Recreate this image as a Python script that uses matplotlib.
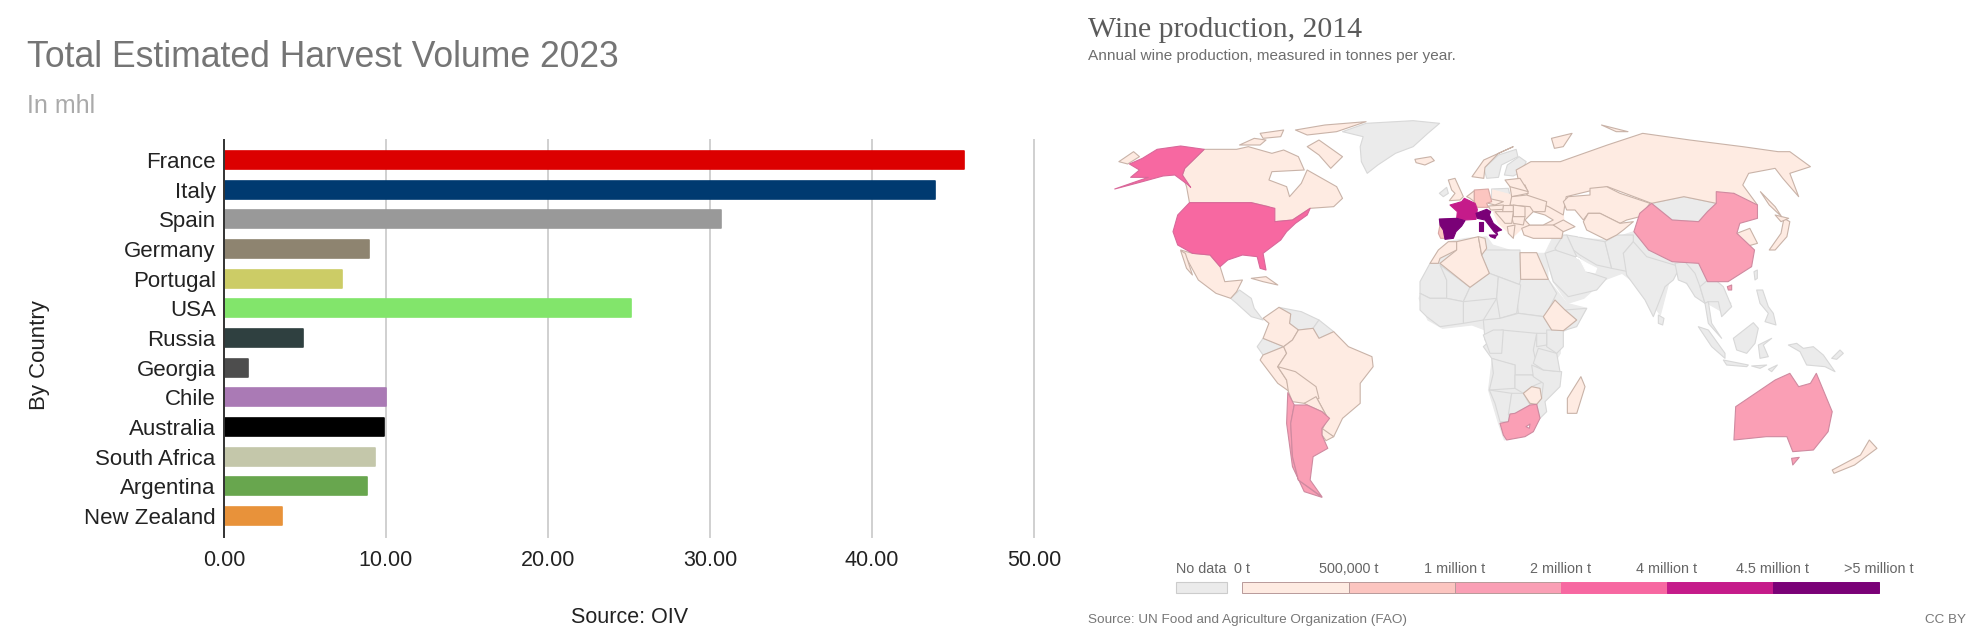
import matplotlib
matplotlib.use("Agg")
import matplotlib.pyplot as plt
from matplotlib.patches import Polygon, Rectangle

plt.rcParams['font.family'] = ['Liberation Sans', 'DejaVu Sans']
W, H = 1983, 643

# ---- bar chart data ----
countries = ['France','Italy','Spain','Germany','Portugal','USA','Russia','Georgia','Chile','Australia','South Africa','Argentina','New Zealand']
volumes = [45.7,43.86,30.66,8.98,7.3,25.15,4.9,1.46,10.0,9.9,9.3,8.8,3.6]
bar_colors = ['#dc0000','#003a70','#999999','#8e8470','#cccc66','#82e56b','#2f4040','#4d4d4d','#aa7ab5','#000000','#c4c7aa','#68a64e','#e8923a']
xticks = [0,10,20,30,40,50]

# ---- legend data ----
legend_labels = ['0 t','500,000 t','1 million t','2 million t','4 million t','4.5 million t','>5 million t']
NODATA, T0, T1, T2, T3, T4, T5 = '#ebebeb','#feebe2','#fcc5c0','#fa9fb5','#f768a1','#c51b8a','#7a0177'
legend_colors = [T0,T1,T2,T3,T4,T5]

# ---- map outlines: "W" units = wide crop, "E","A","S" units = close crops ----
W_under_gray = [
 [(829,490),(829,568),(861,640),(895,655),(880,700),(850,730),(850,790),(825,860),(818,950),(815,985),(790,1030),(755,1050),(745,1000),(728,900),(735,800),(730,725),(700,705),(650,715),(625,690),(610,625),(622,570),(632,525),(660,455),(690,445),(725,440),(735,465),(782,490)],
 [(838,440),(930,450),(975,425),(1000,480),(1040,515),(1085,520),(1100,575),(1140,640),(1130,670),(1100,640),(1040,540),(1020,675),(985,590),(955,550),(925,570),(890,625),(863,640),(838,575),(824,490)],
]
W_under_light = [
 [(735,300),(800,330),(830,350),(855,375),(858,415),(785,415),(770,440),(745,400),(735,360)],
]
W_water = [
 [(790,390),(804,365),(824,375),(838,390),(821,405),(798,405)],
]
W_gray = [
 [(480,125),(520,100),(600,92),(645,100),(625,130),(600,170),(570,190),(540,225),(522,250),(512,215),(510,170),(515,140)],
 [(290,625),(305,600),(325,625),(330,655),(345,690),(325,680),(300,640)],
 [(372,652),(410,665),(440,690),(430,715),(405,720),(390,700),(392,672)],
 [(440,690),(465,725),(440,745),(430,715)],
 [(345,745),(380,770),(345,795),(335,770)],
 [(725,265),(720,235),(745,195),(775,178),(778,200),(750,225),(745,262)],
 [(755,255),(760,225),(780,200),(792,215),(785,245),(770,258)],
]
W_light = [
 [(603,208),(630,200),(636,212),(620,225),(605,218)],
 [(245,178),(300,178),(320,170),(360,190),(380,180),(405,200),(415,240),(360,245),(355,270),(385,290),(390,320),(410,280),(420,240),(470,290),(480,325),(465,350),(425,355),(395,390),(365,395),(355,350),(325,338),(220,338),(215,290),(208,255),(212,235)],
 [(305,165),(330,145),(350,150),(340,165)],
 [(340,130),(380,120),(375,140),(345,145)],
 [(400,120),(450,105),(520,95),(470,125),(420,135)],
 [(420,170),(440,150),(480,200),(460,235),(440,195)],
 [(100,215),(125,185),(135,200),(115,222)],
 [(205,480),(225,490),(255,495),(272,530),(280,575),(310,570),(300,605),(290,625),(265,610),(235,570),(215,505)],
 [(205,482),(213,490),(225,555),(215,535)],
 [(325,565),(350,560),(370,585),(345,575)],
 [(372,652),(392,672),(390,700),(405,720),(395,750),(380,770),(345,745),(355,700),(345,685)],
 [(345,795),(380,770),(385,790),(370,830),(385,870),(390,905),(370,880),(340,810)],
 [(395,750),(405,720),(430,715),(440,745),(465,725),(490,770),(530,800),(532,830),(510,880),(510,940),(480,985),(465,1040),(445,1020),(455,985),(435,920),(430,890),(390,860),(370,830),(385,790),(380,770)],
 [(370,830),(400,845),(435,890),(440,925),(415,940),(395,935),(388,905),(385,870)],
 [(415,940),(435,920),(455,985),(445,965),(420,945)],
 [(445,1015),(465,1040),(452,1052),(445,1035)],
 [(775,240),(800,215),(850,215),(930,165),(990,130),(1070,150),(1160,170),(1220,185),(1240,185),(1275,230),(1240,250),(1255,320),(1228,265),(1215,235),(1170,250),(1160,285),(1185,345),(1160,345),(1145,310),(1115,340),(1060,320),(1005,340),(930,290),(860,320),(855,375),(830,350),(800,330),(780,280)],
 [(835,145),(870,130),(855,170),(840,175)],
 [(920,105),(965,125),(945,125)],
 [(700,260),(720,210),(770,170),(745,190),(722,232),(720,265)],
 [(1150,430),(1172,415),(1185,460),(1165,470),(1155,450)],
 [(1205,480),(1215,455),(1225,430),(1230,385),(1240,395),(1235,440),(1215,480)],
 [(1215,375),(1238,385),(1225,395)],
 [(1190,305),(1215,350),(1226,380),(1205,345)],
 [(1375,1050),(1388,1075),(1350,1125),(1315,1150),(1312,1140),(1360,1095)],
 [(885,860),(892,890),(878,970),(862,970),(862,925)],
]
W_t3 = [
 [(245,178),(205,168),(165,178),(140,205),(118,222),(135,240),(120,262),(150,262),(93,297),(140,275),(175,258),(195,255),(218,285),(222,292),(208,255),(212,235)],
 [(220,338),(325,338),(365,355),(365,395),(395,390),(425,355),(420,375),(400,400),(385,425),(375,450),(345,490),(350,540),(340,535),(335,500),(310,495),(285,510),(272,530),(255,495),(225,490),(200,465),(192,425),(200,375)],
]
W_t2 = [
 [(1005,340),(1040,390),(1085,395),(1100,365),(1115,340),(1115,305),(1145,310),(1185,345),(1185,385),(1155,400),(1150,430),(1180,480),(1175,530),(1135,575),(1100,575),(1085,520),(1040,515),(1000,480),(975,425),(985,370)],
 [(387,908),(398,945),(392,1000),(395,1100),(405,1170),(445,1222),(415,1205),(395,1130),(385,1000)],
 [(398,945),(420,945),(445,965),(458,985),(445,1015),(445,1035),(455,1075),(430,1100),(425,1170),(445,1220),(405,1170),(395,1100),(392,1000)],
 [(1215,870),(1240,850),(1255,890),(1275,880),(1285,850),(1312,965),(1305,1025),(1280,1080),(1245,1085),(1235,1040),(1200,1040),(1145,1050),(1148,950)],
 [(1243,1105),(1256,1102),(1245,1125)],
]
W_gray2 = [
 [(1005,340),(1060,320),(1115,340),(1100,365),(1085,395),(1040,390)],
]
E_water = [
 [(470,262),(500,280),(530,295),(525,308),(498,303),(480,268)],
 [(445,125),(465,120),(490,150),(495,195),(475,198),(465,170),(440,140)],
]
E_gray = [
 [(58,70),(80,52),(85,70),(70,80)],
 [(215,57),(265,55),(272,85),(255,95),(215,85)],
 [(190,240),(300,240),(302,345),(235,320),(208,310),(185,255)],
 [(302,328),(385,328),(410,370),(375,440),(295,430),(290,380)],
 [(435,420),(500,415),(470,470),(430,482),(470,450)],
 [(0,335),(30,280),(60,280),(80,330),(80,385),(30,385),(0,370)],
 [(60,285),(150,352),(130,395),(80,385),(80,330)],
 [(150,352),(208,310),(235,320),(230,385),(160,400),(130,395)],
 [(235,320),(302,345),(290,430),(240,445),(230,385)],
 [(130,395),(230,385),(190,450),(130,460)],
 [(0,370),(30,385),(80,385),(130,395),(130,460),(60,470),(20,440),(0,420)],
 [(190,450),(240,445),(295,430),(370,440),(395,480),(370,510),(195,510)],
 [(440,195),(470,200),(495,205),(555,215),(575,295),(530,285),(480,255),(460,240)],
 [(430,195),(440,195),(470,260),(425,265),(405,235)],
 [(375,250),(405,240),(480,265),(500,305),(560,325),(530,360),(445,380),(400,335)],
 [(555,215),(590,195),(640,195),(640,215),(610,250),(625,305),(575,295)],
 [(640,215),(680,260),(780,290),(760,330),(735,350),(700,440),(675,390),(620,315),(610,250)],
]
E_light = [
 [(85,30),(105,25),(130,80),(120,90),(88,92),(105,70),(95,60)],
 [(140,80),(163,62),(163,95),(150,85)],
 [(270,50),(315,45),(325,70),(275,80)],
 [(255,30),(300,25),(325,65),(270,50)],
 [(275,80),(320,75),(380,95),(375,125),(340,125),(330,110),(270,105)],
 [(205,85),(250,95),(225,105),(205,100)],
 [(205,108),(250,105),(250,118),(212,120)],
 [(250,105),(280,105),(280,125),(245,125)],
 [(280,105),(315,110),(315,140),(280,140)],
 [(275,140),(315,140),(310,165),(280,160)],
 [(225,125),(280,125),(275,160),(255,160)],
 [(262,170),(285,165),(280,205),(265,190)],
 [(305,175),(330,165),(400,165),(430,180),(425,205),(340,205),(312,195)],
 [(400,165),(430,150),(465,170),(430,185)],
 [(430,95),(445,80),(510,75),(510,55),(560,50),(600,70),(690,100),(660,140),(620,150),(600,160),(540,130),(505,130),(490,150),(465,120),(440,120)],
 [(490,155),(505,130),(540,130),(600,160),(640,155),(610,180),(590,195),(560,210),(500,180)],
 [(110,215),(85,215),(55,240),(30,280),(55,280),(60,265),(110,240)],
 [(110,215),(175,200),(185,255),(208,310),(150,352),(60,280),(110,240)],
 [(175,200),(195,205),(200,235),(185,255)],
 [(300,248),(350,248),(385,328),(302,328)],
 [(370,440),(405,390),(435,420),(470,450),(430,482),(395,480)],
]
E_t1 = [
 [(163,60),(205,57),(215,95),(200,100),(205,112),(172,112),(163,95)],
 [(60,165),(70,180),(75,205),(62,205),(55,190)],
]
E_t4 = [
 [(90,105),(125,95),(133,85),(165,100),(172,118),(168,148),(135,150),(110,145),(112,125)],
]
E_t5 = [
 [(58,147),(110,145),(135,152),(125,168),(108,185),(100,205),(75,208),(70,180),(60,165)],
 [(168,130),(200,118),(212,125),(208,135),(220,160),(245,180),(230,185),(233,195),(222,185),(195,150),(172,145)],
 [(208,195),(230,195),(225,205),(212,200)],
 [(178,155),(188,155),(188,182),(178,182)],
]
S_gray = [
 [(305,30),(410,40),(400,90),(415,155),(395,165),(345,165),(345,135),(305,125),(275,115),(250,80)],
 [(275,115),(345,135),(345,205),(268,210),(280,160)],
 [(268,210),(335,220),(325,305),(300,305),(285,250)],
 [(335,220),(370,220),(390,255),(345,280),(325,285)],
 [(345,165),(395,165),(430,185),(395,200),(370,220),(345,205)],
 [(395,135),(430,150),(485,155),(480,200),(435,245),(440,275),(420,295),(410,253),(425,235),(430,190),(400,170)],
 [(415,85),(470,100),(480,155),(430,150),(400,130)],
 [(440,30),(490,30),(490,80),(470,100),(440,80)],
 [(410,40),(440,40),(440,75),(410,80)],
 [(250,45),(280,30),(310,30),(305,100),(270,100)],
]
S_light = [
 [(370,220),(395,200),(420,205),(425,235),(410,253),(390,250)],
]
S_t2 = [
 [(300,310),(325,305),(330,282),(345,280),(390,255),(410,253),(420,295),(400,335),(375,350),(320,360),(310,345)],
]
S_hole = [
 [(378,320),(390,312),(388,325)],
]
A_gray = [
 [(105,100),(135,95),(165,130),(180,170),(195,220),(165,200),(140,160),(115,150)],
 [(180,170),(215,140),(250,170),(275,230),(245,260),(235,215),(205,215),(195,220)],
 [(195,220),(205,215),(215,280),(245,325),(205,280)],
 [(55,255),(72,265),(68,285),(55,280)],
 [(175,290),(205,300),(255,370),(255,385),(215,350)],
 [(250,390),(325,405),(320,410),(260,405)],
 [(335,408),(380,405),(360,415)],
 [(385,418),(412,405),(395,425)],
 [(280,325),(340,278),(355,295),(345,340),(320,370),(290,360)],
 [(355,345),(395,325),(370,345),(385,380),(360,385)],
 [(445,345),(470,340),(490,355),(520,350),(550,375),(585,425),(555,410),(500,405),(480,365)],
 [(350,180),(368,180),(385,230),(400,250),(408,285),(375,275),(385,250),(360,220)],
 [(342,125),(352,120),(352,145),(345,150)],
 [(575,385),(600,360),(610,370),(590,388)],
]
A_t2 = [
 [(262,170),(275,165),(275,180),(265,180)],
]

fig = plt.figure(figsize=(W/100, H/100), dpi=100, facecolor='white')

def T(x, y, s, **kw):
    fig.text(x/W, 1-y/H, s, **kw)

# ---------- bar chart ----------
# pixel frame of the plot: x 224-1034, y 140-537; rows 0 and 12 sit at 160 and 516
ax = fig.add_axes([224/W, 1-537/H, (1034-224)/W, (537-140)/H])
ax.barh(range(len(countries)), volumes, height=0.61, color=bar_colors, edgecolor=bar_colors,
        linewidth=1.2, joinstyle='round', zorder=3)
ax.set_xlim(0, 50)
ax.set_ylim(12.71, -0.674)
ax.set_yticks(range(len(countries)))
ax.set_yticklabels(countries, fontsize=16, color='#222222')
ax.set_xticks(xticks)
ax.set_xticklabels([f'{v:.2f}' for v in xticks], fontsize=15.5, color='#222222')
ax.tick_params(length=0, pad=6, axis='y')
ax.tick_params(length=0, pad=9.5, axis='x')
ax.grid(axis='x', color='#d0d0d0', linewidth=1.4, zorder=0, clip_on=False)
for s in ['top','right','bottom']:
    ax.spines[s].set_visible(False)
ax.spines['left'].set_color('#333333')
ax.spines['left'].set_linewidth(1.4)
ax.spines['left'].set_zorder(5)
ax.set_axisbelow(True)

T(27, 67, 'Total Estimated Harvest Volume 2023', fontsize=25.6, color='#757575')
T(27, 113, 'In mhl', fontsize=18, color='#aaaaaa')
T(39, 355, 'By Country', fontsize=16, color='#222222', rotation=90, ha='center', va='center')
T(630, 623, 'Source: OIV', fontsize=15.5, color='#222222', ha='center')

# ---------- map ----------
m = fig.add_axes([1060/W, 0, (W-1060)/W, 1])
m.set_xlim(1060, W)
m.set_ylim(H, 0)
m.axis('off')

def wide(p):
    return [(1060+x/1.699, 90+y/3) for x, y in p]
def crop(x0, y0):
    return lambda p: [(x0+x/3, y0+y/3) for x, y in p]
east = crop(1420, 170)
south = crop(1400, 320)
asia = crop(1640, 230)

def draw(groups, conv, face, edge, z):
    for p in groups:
        m.add_patch(Polygon(conv(p), closed=True, facecolor=face, edgecolor=edge, linewidth=0.8, zorder=z, joinstyle='round'))

GE, LE = '#d8d8d8', '#c9b3a8'
draw(W_under_gray, wide, NODATA, NODATA, 0.5)
draw(W_gray, wide, NODATA, GE, 1)
draw(W_gray2, wide, NODATA, GE, 1)
draw(E_gray, east, NODATA, GE, 1)
draw(S_gray, south, NODATA, GE, 1)
draw(A_gray, asia, NODATA, GE, 1)
draw(E_water, east, 'white', 'white', 1.5)
draw(W_under_light, wide, T0, T0, 1.6)
draw(W_light, wide, T0, LE, 2)
draw(E_light, east, T0, LE, 2)
draw(S_light, south, T0, LE, 2)
draw(W_water, wide, 'white', LE, 2.5)
draw(E_t1, east, T1, '#d8a8a4', 3)
draw(W_t2, wide, T2, '#cf8aa0', 3)
draw(S_t2, south, T2, '#cf8aa0', 3)
draw(A_t2, asia, T2, '#cf8aa0', 3)
draw(S_hole, south, '#ffffff', '#cf8aa0', 4)
draw(W_t3, wide, T3, '#d9689a', 3)
draw(E_t4, east, T4, T4, 4)
draw(E_t5, east, T5, T5, 4)

# legend
edges_x = [1242.5,1349,1455,1561,1667,1773,1879]
m.add_patch(Rectangle((1176,582), 51, 11, facecolor=NODATA, edgecolor='#cccccc', linewidth=0.8))
for i, c in enumerate(legend_colors):
    m.add_patch(Rectangle((edges_x[i],582), edges_x[i+1]-edges_x[i], 11, facecolor=c,
                          edgecolor='#b89a9a' if i < 3 else c, linewidth=0.7))
for x, s in zip(edges_x, legend_labels):
    T(x, 573, s, fontsize=10.4, color='#666666', ha='center')
T(1201, 573, 'No data', fontsize=10.4, color='#666666', ha='center')

T(1088, 37, 'Wine production, 2014', fontsize=21.4, color='#5b5b5b', family=['Liberation Serif','DejaVu Serif'])
T(1088, 60, 'Annual wine production, measured in tonnes per year.', fontsize=11.1, color='#6e6e6e')
T(1088, 623, 'Source: UN Food and Agriculture Organization (FAO)', fontsize=9.7, color='#777777')
T(1966, 623, 'CC BY', fontsize=9.7, color='#777777', ha='right')

fig.savefig('out.png', dpi=100)
